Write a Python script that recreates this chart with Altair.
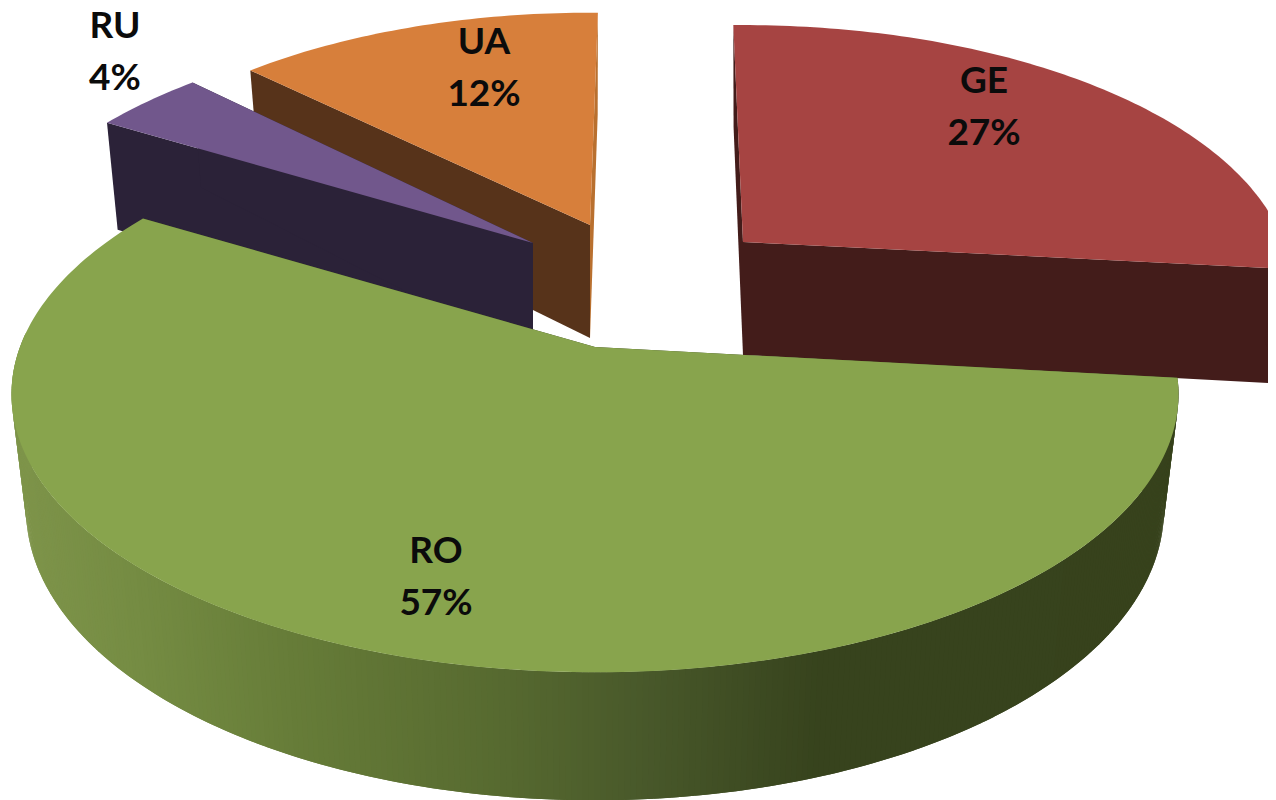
import math
import altair as alt

# chart values
names = ["RO", "RU", "UA", "GE"]
shares = [57, 4, 12, 27]

# look of the slices
top_fill = ["#88A44D", "#71578C", "#D77F3B", "#A64442"]
cut_fill = ["#36421C", "#2B2238", "#57331A", "#431C1A"]
far_cut_fill = ["#36421C", "#2B2238", "#B9702F", "#431C1A"]
rim_stops = [(20, (126, 148, 74)), (150, (116, 139, 66)), (300, (102, 124, 56)),
             (500, (87, 106, 48)), (650, (72, 88, 42)), (820, (55, 67, 29)), (1300, (55, 66, 28))]

# layout in page pixels
apex_x = [595, 533, 590, 743]
apex_y = [347, 243, 225, 242]
radius = [1.0, 0.94, 0.92, 0.94]
start_nudge = [0.4, -0.2, -1.5, 0]
end_nudge = [0, -0.5, 2.2, 0]
label_x = [436, 115, 484, 984]
label_y = [552, 27, 43, 82]
PAGE = 8
A, B, P = 575, 270, 0.17
DEPTH, SHRINK = 113, 0.975
START = 6


def top(i, deg):
    u, v = math.cos(math.radians(deg)), math.sin(math.radians(deg))
    w = 1 - P * v
    r = radius[i]
    return [apex_x[i] + r * A * u / w - PAGE, apex_y[i] + r * B * v / w - PAGE]


def bottom(i, deg):
    u, v = math.cos(math.radians(deg)), math.sin(math.radians(deg))
    w = 1 - P * v
    r = radius[i]
    return [apex_x[i] + r * SHRINK * A * u / w - PAGE,
            apex_y[i] + r * SHRINK * B * v / w + DEPTH / w - PAGE]


def feature(ring, fill):
    ring = ring + [ring[0]]
    return {"type": "Feature", "properties": {"fill": fill},
            "geometry": {"type": "Polygon", "coordinates": [ring]}}


def rim_colour(x):
    x += PAGE
    for (x0, c0), (x1, c1) in zip(rim_stops, rim_stops[1:]):
        if x <= x1:
            t = max(0, (x - x0) / (x1 - x0))
            return "#%02x%02x%02x" % tuple(int(round(a + (b - a) * t)) for a, b in zip(c0, c1))
    return "#37421c"


spans = []
a = START
for i, s in enumerate(shares):
    spans.append((a + start_nudge[i], a + s * 3.6 + end_nudge[i]))
    a += s * 3.6

features = []
for i in [2, 1, 3, 0]:
    a0, a1 = spans[i]
    apex_top = [apex_x[i] - PAGE, apex_y[i] - PAGE]
    apex_bot = [apex_x[i] - PAGE, apex_y[i] + DEPTH - PAGE]
    # the two cut faces
    features.append(feature([apex_top, top(i, a0), bottom(i, a0), apex_bot], cut_fill[i]))
    features.append(feature([apex_top, top(i, a1), bottom(i, a1), apex_bot], far_cut_fill[i]))
    # outer rim, right to left; each strip overlaps the next so no seams show
    n = max(2, int((a1 - a0) / 0.5))
    for k in range(n):
        d0 = a0 + (a1 - a0) * k / n
        d1 = a0 + (a1 - a0) * (k + 1) / n
        if math.sin(math.radians((d0 + d1) / 2)) > -0.05:
            x_mid = (top(i, d0)[0] + bottom(i, d0)[0]) / 2
            fill = rim_colour(x_mid) if i == 0 else cut_fill[i]
            features.append(feature([top(i, d0), top(i, d1 + 0.5), bottom(i, d1 + 0.5), bottom(i, d0)], fill))
    # top surface
    n = max(8, int(a1 - a0))
    arc = [top(i, a0 + (a1 - a0) * k / n) for k in range(n + 1)]
    features.append(feature([apex_top] + arc, top_fill[i]))

slices = alt.Chart(alt.Data(values=features)).mark_geoshape(
    clip=True, strokeWidth=0
).encode(
    fill=alt.Fill("properties.fill:N", scale=None),
).project(type="identity", scale=1, translate=[0, 0])

labels = [
    {"text": f"{n}\n{s}%", "lon": x - PAGE, "lat": y - PAGE}
    for n, s, x, y in zip(names, shares, label_x, label_y)
]
texts = alt.Chart(alt.Data(values=labels)).mark_text(
    font="Lato", fontWeight="bold", fontSize=37, color="#0b0b0b",
    lineBreak="\n", lineHeight=52, align="center", baseline="middle",
).encode(
    longitude="lon:Q", latitude="lat:Q", text="text:N",
).project(type="identity", scale=1, translate=[0, 0])

chart = alt.layer(slices, texts).properties(
    width=1260, height=792, padding=0,
    autosize=alt.AutoSizeParams(type="none"),
).configure_view(stroke=None)

chart.save("out.html", embed_options={"renderer": "svg", "actions": False})
